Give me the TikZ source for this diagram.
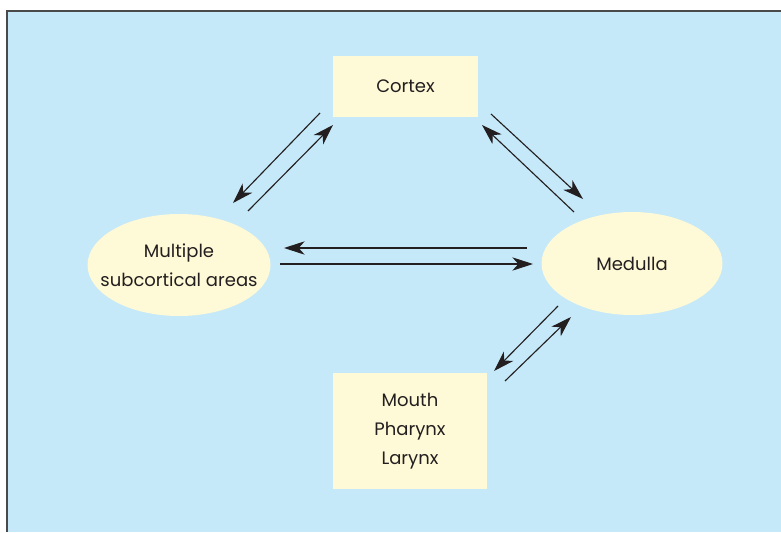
\documentclass[tikz,border=0pt]{standalone}
\usepackage{fontspec}
\setmainfont{Poppins}
\usetikzlibrary{shapes.geometric,arrows.meta}
\definecolor{bgblue}{HTML}{C6E9F9}
\definecolor{boxfill}{HTML}{FEF9D6}
\definecolor{ink}{HTML}{231F20}
\definecolor{framegray}{HTML}{4A4A4A}
\tikzset{
  lbl/.style={font=\fontsize{13.5pt}{21.5pt}\selectfont, text=ink, align=center},
  rectnode/.style={lbl, rectangle, fill=boxfill, inner sep=0pt},
  ellnode/.style={ellipse, fill=boxfill, inner sep=0pt},
  conn/.style={draw=ink, line width=0.85pt, -{Stealth[length=15.5pt,width=10pt,inset=4.5pt]}}
}
\begin{document}
\begin{tikzpicture}[x=0.75pt,y=-0.75pt]
\useasboundingbox (0,0) rectangle (781,532);
\fill[white] (0,0) rectangle (781,532);
\fill[bgblue] (7,11) rectangle (781,532);
\draw[framegray, line width=1.1pt] (7,532) -- (7,11) -- (781,11);

\node[rectnode, minimum width=108.75pt, minimum height=45.75pt] (cortex) at (405.5,86.5) {Cortex};
\node[rectnode, minimum width=115.5pt, minimum height=87pt] (mouth) at (410,431) {Mouth\\Pharynx\\Larynx};
\node[ellnode, minimum width=137.25pt, minimum height=76.5pt,
      label={[lbl]center:Multiple\\subcortical areas}] (sub) at (179,265) {};
\node[ellnode, minimum width=135.75pt, minimum height=77.25pt,
      label={[lbl]center:Medulla}] (med) at (632,263.5) {};

\coordinate (a1s) at (320,113); \coordinate (a1e) at (233,203);
\coordinate (a2s) at (248,211); \coordinate (a2e) at (333,125);
\coordinate (b1s) at (491,114); \coordinate (b1e) at (583,199);
\coordinate (b2s) at (574,212); \coordinate (b2e) at (482,125);
\coordinate (c1s) at (527,248); \coordinate (c1e) at (284,248);
\coordinate (c2s) at (280,264); \coordinate (c2e) at (533,264);
\coordinate (d1s) at (558,306); \coordinate (d1e) at (494,371);
\coordinate (d2s) at (505,381); \coordinate (d2e) at (571,317);

\draw[conn] (a1s) -- (a1e);
\draw[conn] (a2s) -- (a2e);
\draw[conn] (b1s) -- (b1e);
\draw[conn] (b2s) -- (b2e);
\draw[conn] (c1s) -- (c1e);
\draw[conn] (c2s) -- (c2e);
\draw[conn] (d1s) -- (d1e);
\draw[conn] (d2s) -- (d2e);
\end{tikzpicture}
\end{document}
